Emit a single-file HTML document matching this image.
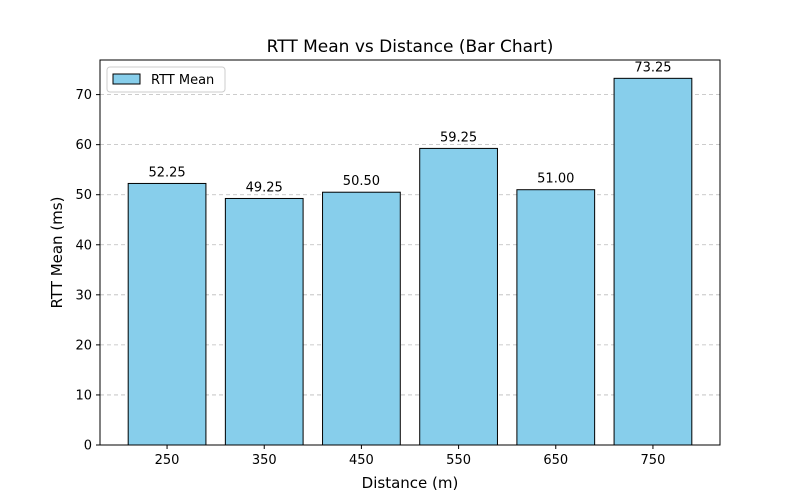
<!DOCTYPE html>
<html><head><meta charset="utf-8"><style>
html,body{margin:0;background:#fff;overflow:hidden;}
svg{display:block;font-family:"DejaVu Sans","Liberation Sans",sans-serif;}
</style></head><body>
<svg id="chart" width="800" height="500" xmlns="http://www.w3.org/2000/svg">
<rect width="800" height="500" fill="#fff"/>
<text x="410" y="52" font-size="17" text-anchor="middle">RTT Mean vs Distance (Bar Chart)</text>
<g id="grid"></g><g id="bars"></g><g id="axes"></g>
<text x="410" y="488" font-size="15" text-anchor="middle">Distance (m)</text>
<text x="0" y="0" font-size="15" text-anchor="middle" transform="translate(62,252.5) rotate(-90)">RTT Mean (ms)</text>
<g>
<rect x="107" y="67" width="118" height="25" rx="3" fill="#fff" stroke="#ccc"/>
<rect x="113" y="74" width="27" height="10" fill="#87CEEB" stroke="#000" stroke-width="1"/>
<text x="151" y="84" font-size="13">RTT Mean</text>
</g>
</svg>
<script>
const categories = ["250","350","450","550","650","750"];
const values = [52.25,49.25,50.50,59.25,51.00,73.25];
const yTicks = [0,10,20,30,40,50,60,70];

const L=100,R=720,T=60,B=445;
const yMax=Math.max(...values)*1.05;
const n=categories.length;
const xMin=-0.4-0.05*(n-1+0.8), xMaxV=n-1+0.4+0.05*(n-1+0.8);
const xs=v=>L+(v-xMin)/(xMaxV-xMin)*(R-L);
const ys=v=>B-v/yMax*(B-T);
const NS="http://www.w3.org/2000/svg";
function mk(tag,attrs,parent,txt){const e=document.createElementNS(NS,tag);for(const k in attrs)e.setAttribute(k,attrs[k]);if(txt!==undefined)e.textContent=txt;parent.appendChild(e);return e;}
const grid=document.getElementById('grid'),bars=document.getElementById('bars'),axes=document.getElementById('axes');
yTicks.forEach(t=>{
  const y=ys(t);
  const g=mk('line',{x1:L,x2:R,y1:y,y2:y,stroke:'#bbb','stroke-dasharray':'4,3','stroke-width':0.8},grid);
  
  
  const tk=mk('line',{x1:L-4,x2:L,y1:y,y2:y,stroke:'#000'},axes);
  
  
  const lb=mk('text',{x:L-8,y:y+4.5,'font-size':13,'text-anchor':'end'},axes,String(t));
  
  
});
const bw=(xs(0.8)-xs(0));
categories.forEach((c,i)=>{
  const cx=xs(i),y=ys(values[i]);
  const r=mk('rect',{x:cx-bw/2,y:y,width:bw,height:B-y,fill:'#87CEEB',stroke:'#000','stroke-width':1},bars);
  
  
  const v=mk('text',{x:cx,y:y-7,'font-size':13,'text-anchor':'middle'},bars,values[i].toFixed(2));
  
  
  const tk=mk('line',{x1:cx,x2:cx,y1:B,y2:B+4,stroke:'#000'},axes);
  
  
  const lb=mk('text',{x:cx,y:B+19,'font-size':13,'text-anchor':'middle'},axes,c);
  
  
});
const fr=mk('rect',{x:L,y:T,width:R-L,height:B-T,fill:'none',stroke:'#000','stroke-width':1},axes);


</script>
</body></html>
